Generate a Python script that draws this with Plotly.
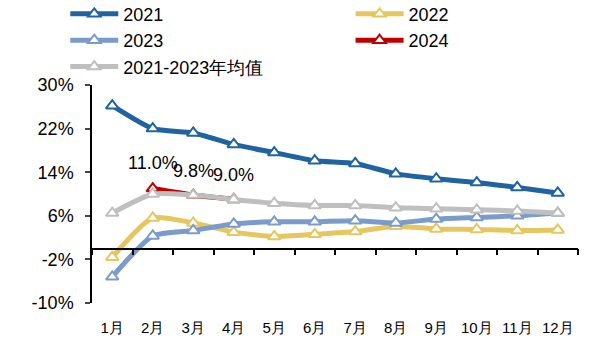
import plotly.graph_objects as go

months = ["1月", "2月", "3月", "4月", "5月", "6月", "7月", "8月", "9月", "10月", "11月", "12月"]
y2021 = [26.2, 22.0, 21.2, 19.1, 17.6, 16.1, 15.6, 13.7, 12.8, 12.1, 11.2, 10.2]
y2022 = [-1.6, 5.6, 4.7, 3.0, 2.2, 2.6, 3.1, 4.1, 3.6, 3.5, 3.3, 3.4]
y2023 = [-5.2, 2.3, 3.3, 4.5, 4.9, 4.9, 5.1, 4.7, 5.4, 5.7, 6.0, 6.5]
y2024 = [None, 11.0, 9.8, 9.0, None, None, None, None, None, None, None, None]
yavg = [6.5, 10.0, 9.8, 9.0, 8.3, 7.9, 7.9, 7.5, 7.3, 7.1, 6.9, 6.5]
label_months = ["2月", "3月", "4月"]
label_values = [11.0, 9.8, 9.0]
yticks = [-10, -2, 6, 14, 22, 30]

series = [
    ("2021", y2021, "#1F64A0", "legend"),
    ("2022", y2022, "#E6C75F", "legend2"),
    ("2023", y2023, "#7B9BCC", "legend"),
    ("2024", y2024, "#C00000", "legend2"),
    ("2021-2023年均值", yavg, "#BFBFBF", "legend"),
]

FONT = "Liberation Sans, Arial, sans-serif"
fig = go.Figure()
for name, vals, col, lg in series:
    fig.add_trace(go.Scatter(
        x=months, y=vals, name=name, mode="lines+markers", legend=lg,
        line=dict(color=col, width=5, shape="spline", smoothing=0.6),
        marker=dict(symbol="triangle-up", size=11, color="white",
                    line=dict(color=col, width=2)),
        connectgaps=False,
    ))

# invisible trace on secondary x axis to draw the zero-positioned axis line
fig.add_trace(go.Scatter(x=months, y=[None]*12, xaxis="x2", showlegend=False,
                         hoverinfo="skip"))

for m, v in zip(label_months, label_values):
    fig.add_annotation(x=m, y=v, text=f"{v:.1f}%", showarrow=False,
                       yshift=26 if v > 10.5 else 24,
                       font=dict(family=FONT, size=18, color="#000"))

legend_common = dict(orientation="v", xanchor="left", yanchor="top",
                     itemwidth=48, font=dict(family=FONT, size=18),
                     tracegroupgap=0, bgcolor="rgba(0,0,0,0)")

fig.update_layout(
    width=598, height=342,
    margin=dict(l=92, r=20, t=85, b=39, autoexpand=False),
    plot_bgcolor="white", paper_bgcolor="white",
    font=dict(family=FONT, size=18, color="#000"),
    showlegend=True,
    legend=dict(x=-0.055, y=1.41, **legend_common),
    legend2=dict(x=0.532, y=1.41, **legend_common),
    xaxis=dict(type="category", categoryorder="array", categoryarray=months,
               range=[-0.5, 11.5], showline=False, showgrid=False,
               ticks="outside", ticklen=11, tickcolor="rgba(0,0,0,0)",
               tickfont=dict(family=FONT, size=15), zeroline=False),
    xaxis2=dict(type="category", categoryorder="array", categoryarray=months,
                range=[-0.5, 11.5], overlaying="x", anchor="free",
                position=0.25, side="bottom", showline=True, linecolor="#000",
                linewidth=1.5, ticks="outside", tickson="boundaries", ticklen=6,
                tickwidth=1.5, tickcolor="#000", showticklabels=False,
                showgrid=False, zeroline=False),
    yaxis=dict(range=[-10, 30], tickvals=yticks,
               ticktext=[f"{t}%" for t in yticks], showline=True,
               linecolor="#000", linewidth=1.5, ticks="outside", ticklen=5,
               tickwidth=1.5, showgrid=False, zeroline=False,
               ticklabelstandoff=8,
               tickfont=dict(family=FONT, size=18)),
)

fig.write_html("out.html")
